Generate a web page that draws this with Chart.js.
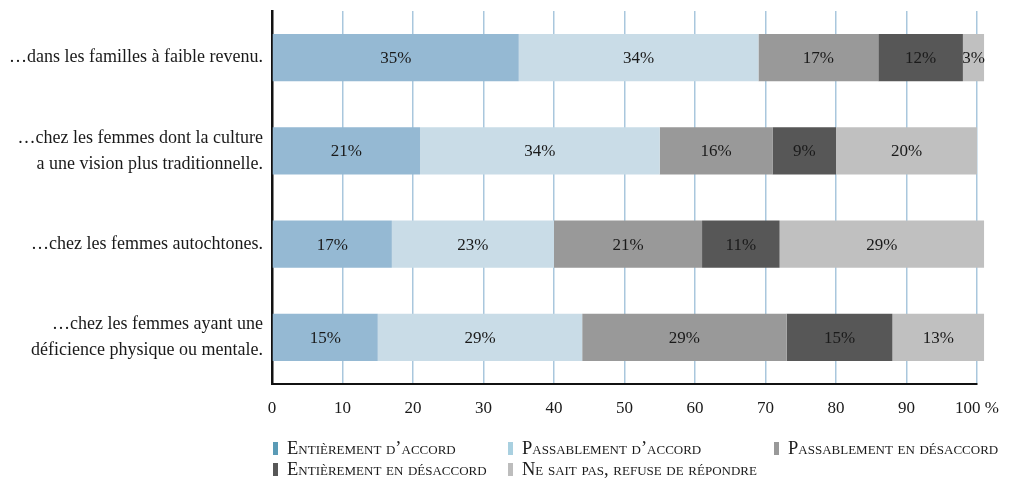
<!DOCTYPE html>
<html>
<head>
<meta charset="utf-8">
<script src="https://cdn.jsdelivr.net/npm/chart.js@4.4.0/dist/chart.umd.min.js"></script>
<style>
  html, body { margin: 0; padding: 0; background: #fff; }
  #wrap { position: relative; width: 1009px; height: 481px; }
  #c { position: absolute; left: 0; top: 0; }
  .lg { position: absolute; font-family: "Liberation Serif", serif; font-variant: small-caps; font-size: 18.5px; color: #1a1a1a; white-space: nowrap; line-height: 16px; }
  .sw { position: absolute; left: 0; top: 2px; width: 5px; height: 13px; }
  .lg span.t { position: absolute; left: 14px; top: 0; }
</style>
</head>
<body>
<div id="wrap">
  <canvas id="c" width="1009" height="481"></canvas>
  <div id="legend"></div>
</div>
<script>
const categories = [
  ['…dans les familles à faible revenu.'],
  ['…chez les femmes dont la culture', 'a une vision plus traditionnelle.'],
  ['…chez les femmes autochtones.'],
  ['…chez les femmes ayant une', 'déficience physique ou mentale.']
];
const seriesNames = [
  'Entièrement d’accord',
  'Passablement d’accord',
  'Passablement en désaccord',
  'Entièrement en désaccord',
  'Ne sait pas, refuse de répondre'
];
const entierementAccord = [35, 21, 17, 15];
const passablementAccord = [34, 34, 23, 29];
const passablementDesaccord = [17, 16, 21, 29];
const entierementDesaccord = [12, 9, 11, 15];
const neSaitPas = [3, 20, 29, 13];
const xTicks = [0, 10, 20, 30, 40, 50, 60, 70, 80, 90, 100];

const barColors = ['#95b9d3', '#c9dce7', '#999999', '#575757', '#c0c0c0'];
const legendColors = ['#5a9bb6', '#a9d0e0', '#999999', '#575757', '#bdbdbd'];
const seriesValues = [entierementAccord, passablementAccord, passablementDesaccord, entierementDesaccord, neSaitPas];

const datasets = seriesNames.map((n, i) => ({
  label: n,
  data: seriesValues[i],
  backgroundColor: barColors[i],
  borderWidth: 0,
  barPercentage: 0.505,
  categoryPercentage: 1,
  clip: false
}));

const barLabels = {
  id: 'barLabels',
  afterDatasetsDraw(chart) {
    const ctx = chart.ctx;
    ctx.save();
    ctx.font = '17px "Liberation Serif", serif';
    ctx.fillStyle = '#1a1a1a';
    ctx.textAlign = 'center';
    ctx.textBaseline = 'middle';
    chart.data.datasets.forEach((ds, di) => {
      const meta = chart.getDatasetMeta(di);
      meta.data.forEach((bar, i) => {
        const v = ds.data[i];
        const cx = (bar.x + bar.base) / 2;
        ctx.fillText(v + '%', cx, bar.y + 1);
      });
    });
    ctx.restore();
  }
};

new Chart(document.getElementById('c'), {
  type: 'bar',
  data: { labels: categories, datasets },
  options: {
    indexAxis: 'y',
    responsive: false,
    animation: false,
    layout: { padding: { left: 0, right: 32, top: 11, bottom: 57 } },
    plugins: { legend: { display: false }, tooltip: { enabled: false } },
    scales: {
      x: {
        stacked: true,
        min: 0, max: 100,
        afterBuildTicks(scale) { scale.ticks = xTicks.map(v => ({ value: v })); },
        afterFit(scale) { scale.height = 40; scale.paddingLeft = 0; scale.paddingRight = 0; },
        ticks: {
          padding: 14,
          color: '#1a1a1a',
          font: { family: '"Liberation Serif", serif', size: 17 },
          callback: v => v === 100 ? '100 %' : String(v)
        },
        grid: {
          drawTicks: false,
          color: ctx => ctx.index === 0 ? 'rgba(0,0,0,0)' : '#a9c7dd',
          lineWidth: 1.5
        },
        border: { display: true, color: '#111', width: 2 }
      },
      y: {
        stacked: true,
        afterFit(scale) { scale.width = 272; scale.paddingTop = 0; scale.paddingBottom = 0; },
        ticks: {
          padding: 9,
          color: '#1a1a1a',
          font: { family: '"Liberation Serif", serif', size: 18, lineHeight: 1.45 }
        },
        grid: { display: false, drawTicks: false },
        border: { display: true, color: '#111', width: 2.5 }
      }
    }
  },
  plugins: [barLabels]
});

// legend (HTML, positioned below plot)
const legendPos = [[273, 440], [508, 440], [774, 440], [273, 461], [508, 461]];
const lg = document.getElementById('legend');
seriesNames.forEach((n, i) => {
  const d = document.createElement('div');
  d.className = 'lg';
  d.style.left = legendPos[i][0] + 'px';
  d.style.top = legendPos[i][1] + 'px';
  const s = document.createElement('span');
  s.className = 'sw';
  s.style.background = legendColors[i];
  const t = document.createElement('span');
  t.className = 't';
  t.textContent = n;
  d.appendChild(s); d.appendChild(t);
  lg.appendChild(d);
});
</script>
</body>
</html>
